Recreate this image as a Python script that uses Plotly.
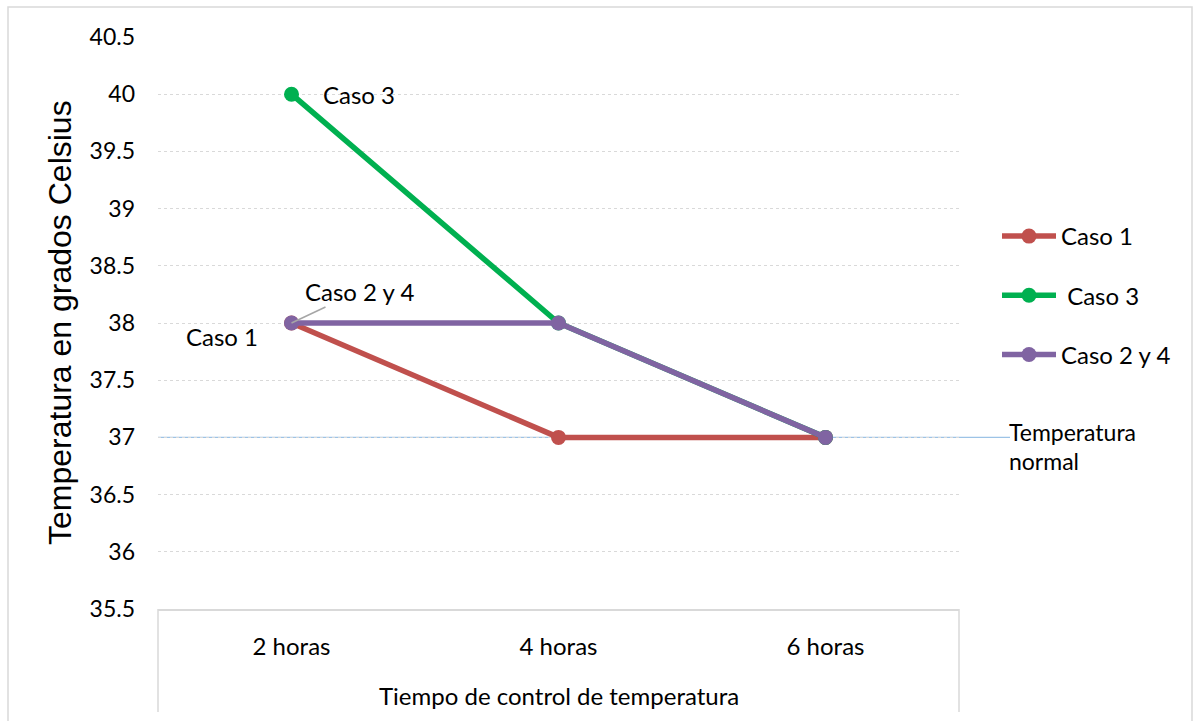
import plotly.graph_objects as go

# Categories and temperature readings (°C)
horas = ["2 horas", "4 horas", "6 horas"]
caso_1 = [38, 37, 37]
caso_3 = [40, 38, 37]
caso_2_y_4 = [38, 38, 37]
temp_normal = 37

y_min, y_max = 35.5, 40.5
y_ticks = [35.5, 36, 36.5, 37, 37.5, 38, 38.5, 39, 39.5, 40, 40.5]
y_tick_text = ["35.5", "36", "36.5", "37", "37.5", "38", "38.5", "39", "39.5", "40", "40.5"]

series = [
    ("Caso 1", caso_1, "#C0504D"),
    (" Caso 3", caso_3, "#00B050"),
    ("Caso 2 y 4", caso_2_y_4, "#8064A2"),
]

W, H = 1195, 721
L, R, T, B = 158, 236, 37, 112
plot_w, plot_h = W - L - R, H - T - B


def px_x(p):
    return (p - L) / plot_w


def px_y(p):
    return (H - B - p) / plot_h


TXT = "Lato"
fig = go.Figure()
for i, (name, vals, color) in enumerate(series):
    fig.add_trace(go.Scatter(
        x=horas, y=vals, name=name, mode="lines+markers",
        line=dict(color=color, width=5.5),
        marker=dict(color=color, size=15),
        legendgroup=f"g{i}",
    ))

shapes = [
    # outer chart border
    dict(type="rect", xref="paper", yref="paper",
         x0=px_x(8), x1=px_x(1192), y0=px_y(730), y1=px_y(7),
         line=dict(color="#D9D9D9", width=1.5), layer="below"),
    # category axis box sides
    dict(type="line", xref="paper", yref="paper", x0=0, x1=0, y0=0, y1=px_y(712),
         line=dict(color="#D9D9D9", width=1.5)),
    dict(type="line", xref="paper", yref="paper", x0=1, x1=1, y0=0, y1=px_y(712),
         line=dict(color="#D9D9D9", width=1.5)),
    # normal temperature reference line
    dict(type="line", xref="paper", yref="paper",
         x0=0, x1=px_x(1010),
         y0=(temp_normal - y_min) / (y_max - y_min),
         y1=(temp_normal - y_min) / (y_max - y_min),
         line=dict(color="#9DC3E6", width=1.2), layer="below"),
]

annotations = [
    dict(x=horas[0], y=caso_3[0], text="Caso 3", showarrow=False,
         xanchor="left", xshift=29, font=dict(family=TXT, size=24, color="#000")),
    dict(x=horas[0], y=caso_1[0], text="Caso 1", showarrow=False,
         xshift=-70, yshift=-13, font=dict(family=TXT, size=24, color="#000")),
    dict(x=horas[0], y=caso_2_y_4[0], text="Caso 2 y 4", showarrow=True,
         ax=68, ay=-32, arrowhead=0, arrowwidth=1.5, arrowcolor="#A6A6A6",
         standoff=0, font=dict(family=TXT, size=24, color="#000")),
    dict(xref="paper", yref="paper", x=px_x(1007), y=px_y(432),
         text="Temperatura", showarrow=False, xanchor="left",
         yanchor="middle", font=dict(family=TXT, size=23, color="#000")),
    dict(xref="paper", yref="paper", x=px_x(1007), y=px_y(461),
         text="normal", showarrow=False, xanchor="left",
         yanchor="middle", font=dict(family=TXT, size=23, color="#000")),
    dict(xref="paper", yref="paper", x=px_x(60), y=0.5,
         xanchor="center", yanchor="middle",
         text="Temperatura en grados Celsius", textangle=-90, showarrow=False,
         font=dict(family="Liberation Sans", size=32, color="#000")),
    dict(xref="paper", yref="paper", x=0.5, y=px_y(695),
         xanchor="center", yanchor="middle",
         text="Tiempo de control de temperatura", showarrow=False,
         font=dict(family=TXT, size=24, color="#000")),
]

fig.update_layout(
    width=W, height=H,
    margin=dict(l=L, r=R, t=T, b=B, pad=0),
    paper_bgcolor="white", plot_bgcolor="white",
    showlegend=True,
    legend=dict(x=px_x(997), y=px_y(214), xanchor="left", yanchor="top",
                font=dict(family=TXT, size=24, color="#000"),
                tracegroupgap=25, itemwidth=54, bgcolor="rgba(0,0,0,0)"),
    shapes=shapes,
    annotations=annotations,
    xaxis=dict(type="category", range=[-0.5, 2.5], showgrid=False,
               showline=True, linecolor="#D9D9D9", linewidth=1.5,
               ticks="", ticklabelstandoff=15,
               tickfont=dict(family=TXT, size=24, color="#000"),
               zeroline=False, fixedrange=True),
    yaxis=dict(range=[y_min, y_max], tickvals=y_ticks, ticktext=y_tick_text,
               showgrid=True, gridcolor="#D9D9D9", griddash="dot", gridwidth=1,
               showline=False, zeroline=False, ticks="", ticklabelstandoff=22,
               tickfont=dict(family=TXT, size=23, color="#000")),
)

fig.write_html("out.html")
